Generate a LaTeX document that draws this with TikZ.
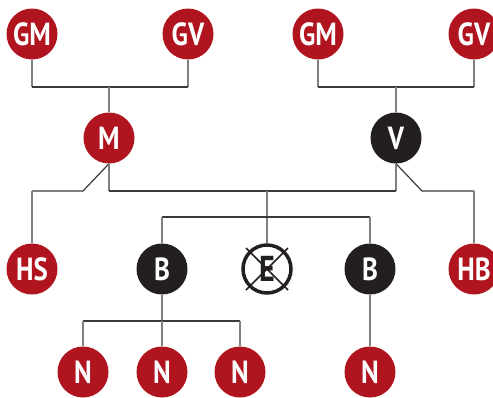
\documentclass[tikz,border=0pt]{standalone}
\usepackage{fontspec}
\setmainfont{PT Sans}
\newfontfamily\labelfont{PT Sans}[BoldFont={* Bold},FakeStretch=0.84]
\definecolor{famred}{HTML}{B0141E}
\definecolor{famblack}{HTML}{231F20}
\definecolor{vline}{HTML}{808080}
\definecolor{hline}{HTML}{3A3A3A}
\begin{document}
\begin{tikzpicture}[x=1pt,y=1pt,
  person/.style={circle,minimum size=51pt,inner sep=0pt,text=white,
    font=\labelfont\bfseries\fontsize{32}{32}\selectfont},
  redp/.style={person,fill=famred},
  blackp/.style={person,fill=famblack},
  deadp/.style={circle,minimum size=48pt,inner sep=0pt,draw=famblack,line width=3.5pt,fill=white,
    text=famblack,font=\labelfont\bfseries\fontsize{36}{36}\selectfont},
  vl/.style={draw=vline,line width=1.2pt},
  hl/.style={draw=hline,line width=1.2pt}]
\useasboundingbox (0,0) rectangle (493,-397);
\begin{scope}
\clip (0,0) rectangle (493,-397);
% nodes
\node[redp] (gm1) at (32,-34) {GM};
\node[redp] (gv1) at (188,-34) {GV};
\node[redp] (gm2) at (318,-34) {GM};
\node[redp] (gv2) at (474,-34) {GV};
\node[redp] (m) at (109,-138) {M};
\node[blackp] (v) at (396,-138) {V};
\node[redp] (hs) at (32,-269) {HS};
\node[blackp] (b1) at (162,-269) {B};
\node[deadp] (e) at (267,-269) {E};
\node[blackp] (b2) at (370,-269) {B};
\node[redp] (hb) at (474,-269) {HB};
\node[redp] (n1) at (83,-372) {N};
\node[redp] (n2) at (162,-372) {N};
\node[redp] (n3) at (240,-372) {N};
\node[redp] (n4) at (370,-372) {N};
% junction coordinates
\coordinate (j1) at (109,-87);
\coordinate (j2) at (396,-87);
\coordinate (mk) at (83,-191);
\coordinate (mp) at (109,-191);
\coordinate (vk) at (422,-191);
\coordinate (vp) at (396,-191);
\coordinate (ej) at (267,-191);
\coordinate (b1j) at (162,-217);
\coordinate (b2j) at (370,-217);
\coordinate (nj) at (162,-321);
\coordinate (n1j) at (83,-321);
\coordinate (n3j) at (240,-321);
\coordinate (hsj) at (32,-191);
\coordinate (hbj) at (474,-191);
% connectors
\draw[vl] (gm1.south) -- (gm1.south |- j1);
\draw[vl] (gv1.south) -- (gv1.south |- j1);
\draw[hl] (gm1.south |- j1) -- (gv1.south |- j1);
\draw[vl] (j1) -- (m.north);
\draw[vl] (gm2.south) -- (gm2.south |- j2);
\draw[vl] (gv2.south) -- (gv2.south |- j2);
\draw[hl] (gm2.south |- j2) -- (gv2.south |- j2);
\draw[vl] (j2) -- (v.north);
\draw[hl] (m.south) -- (mk) -- (hsj);
\draw[vl] (hsj) -- (hs.north);
\draw[hl] (v.south) -- (vk) -- (hbj);
\draw[vl] (hbj) -- (hb.north);
\draw[vl] (m.south) -- (mp);
\draw[vl] (v.south) -- (vp);
\draw[hl] (mp) -- (vp);
\draw[vl] (ej) -- (e.north);
\draw[hl] (b1j) -- (b2j);
\draw[vl] (b1j) -- (b1.north);
\draw[vl] (b2j) -- (b2.north);
\draw[vl] (b1.south) -- (nj);
\draw[hl] (n1j) -- (n3j);
\draw[vl] (n1j) -- (n1.north);
\draw[vl] (nj) -- (n2.north);
\draw[vl] (n3j) -- (n3.north);
\draw[vl] (b2.south) -- (n4.north);
% cross through E
\draw[famblack,line width=1.6pt] ([shift={(-21,21)}]e.center) -- ([shift={(21,-21)}]e.center);
\draw[famblack,line width=1.6pt] ([shift={(-21,-21)}]e.center) -- ([shift={(21,21)}]e.center);
\end{scope}
\end{tikzpicture}
\end{document}
